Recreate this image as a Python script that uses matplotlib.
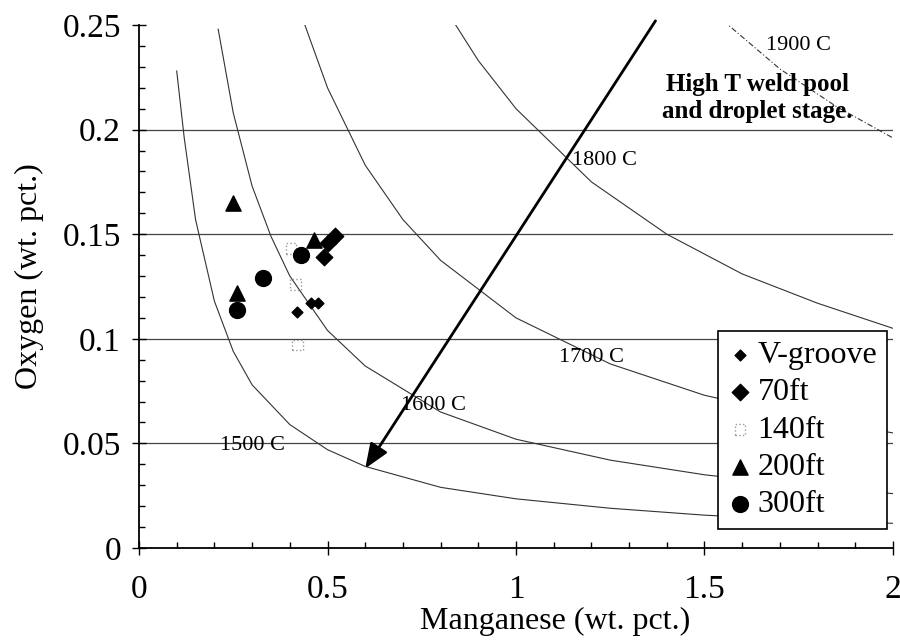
import matplotlib
matplotlib.use("Agg")
import matplotlib.pyplot as plt
from matplotlib.ticker import MultipleLocator

plt.rcParams['font.family'] = ['Liberation Serif', 'DejaVu Serif']

# ---- data ----
vgroove_mn = [0.42, 0.455, 0.475]
vgroove_o = [0.113, 0.117, 0.117]
ft70_mn = [0.49, 0.50, 0.52]
ft70_o = [0.139, 0.146, 0.149]
ft140_mn = [0.403, 0.416, 0.42]
ft140_o = [0.143, 0.126, 0.097]
ft200_mn = [0.25, 0.26, 0.465]
ft200_o = [0.165, 0.122, 0.147]
ft300_mn = [0.26, 0.33, 0.43]
ft300_o = [0.114, 0.129, 0.14]

iso1500_mn = [0.10, 0.12, 0.15, 0.20, 0.25, 0.30, 0.40, 0.50, 0.60, 0.80, 1.00, 1.25, 1.50, 1.75, 2.00]
iso1500_o = [0.228, 0.196, 0.157, 0.118, 0.094, 0.078, 0.059, 0.047, 0.039, 0.029, 0.0235, 0.019, 0.0157, 0.0134, 0.0118]
iso1600_mn = [0.21, 0.25, 0.30, 0.35, 0.40, 0.50, 0.60, 0.80, 1.00, 1.25, 1.50, 1.75, 2.00]
iso1600_o = [0.248, 0.208, 0.173, 0.149, 0.130, 0.104, 0.087, 0.065, 0.052, 0.042, 0.035, 0.030, 0.026]
iso1700_mn = [0.44, 0.50, 0.60, 0.70, 0.80, 1.00, 1.25, 1.50, 1.75, 2.00]
iso1700_o = [0.25, 0.22, 0.183, 0.157, 0.1375, 0.11, 0.088, 0.073, 0.063, 0.055]
iso1800_mn = [0.84, 0.90, 1.00, 1.20, 1.40, 1.60, 1.80, 2.00]
iso1800_o = [0.25, 0.233, 0.21, 0.175, 0.15, 0.131, 0.117, 0.105]
iso1900_mn = [1.55, 1.70, 1.85, 2.00]
iso1900_o = [0.252, 0.229, 0.211, 0.196]

arrow_start = (1.37, 0.252)
arrow_end = (0.60, 0.038)

W, H = 900, 644
fig = plt.figure(figsize=(9, 6.44), dpi=100)
ax = fig.add_axes([139 / W, 1 - 548 / H, (893 - 139) / W, (548 - 25) / H])

ax.set_xlim(0, 2)
ax.set_ylim(0, 0.25)

for yv in [0.05, 0.10, 0.15, 0.20]:
    ax.axhline(yv, color='#444444', lw=0.9, zorder=1)

curve_kw = dict(color='#333333', lw=0.8, zorder=2)
ax.plot(iso1500_mn, iso1500_o, **curve_kw)
ax.plot(iso1600_mn, iso1600_o, **curve_kw)
ax.plot(iso1700_mn, iso1700_o, **curve_kw)
ax.plot(iso1800_mn, iso1800_o, **curve_kw)
ax.plot(iso1900_mn, iso1900_o, color='#333333', lw=0.8, ls=(0, (5, 2, 1, 2)), zorder=2)

lab_kw = dict(fontsize=16, ha='center', va='center', zorder=3)
ax.text(0.30, 0.049, '1500 C', **lab_kw)
ax.text(0.78, 0.068, '1600 C', **lab_kw)
ax.text(1.20, 0.091, '1700 C', **lab_kw)
ax.text(1.235, 0.185, '1800 C', **lab_kw)
ax.text(1.75, 0.240, '1900 C', **lab_kw)
ax.text(1.64, 0.215, 'High T weld pool\nand droplet stage.', fontsize=18,
        fontweight='bold', ha='center', va='center', linespacing=1.2, zorder=3)

ax.annotate('', xy=arrow_end, xytext=arrow_start,
            arrowprops=dict(arrowstyle='-|>,head_length=1.5,head_width=0.6',
                            color='black', lw=2, shrinkA=0, shrinkB=0), zorder=4)

ax.scatter(vgroove_mn, vgroove_o, marker='D', s=30, color='black', zorder=5, label='V-groove')
ax.scatter(ft70_mn, ft70_o, marker='D', s=70, color='black', zorder=5, label='70ft')
ax.scatter(ft140_mn, ft140_o, marker='s', s=60, facecolor='none', edgecolor='#999999',
           linestyle=':', lw=1, zorder=5, label='140ft')
ax.scatter(ft200_mn, ft200_o, marker='^', s=120, color='black', zorder=5, label='200ft')
ax.scatter(ft300_mn, ft300_o, marker='o', s=130, color='black', zorder=5, label='300ft')

leg = ax.legend(loc='lower right', bbox_to_anchor=(887 / W, 1 - 529 / H),
                bbox_transform=fig.transFigure, fontsize=23,
                frameon=True, fancybox=False, edgecolor='black', handletextpad=0.15,
                borderpad=0.3, borderaxespad=0, labelspacing=0.25, handlelength=0.8,
                framealpha=1)
leg.get_frame().set_linewidth(1.2)

for s in ['top', 'right']:
    ax.spines[s].set_visible(False)
ax.spines['left'].set_linewidth(1.3)
ax.spines['bottom'].set_linewidth(1.3)

ax.xaxis.set_minor_locator(MultipleLocator(0.1))
ax.yaxis.set_minor_locator(MultipleLocator(0.01))
ax.set_xticks([0, 0.5, 1, 1.5, 2])
ax.set_xticklabels(['0', '0.5', '1', '1.5', '2'])
ax.set_yticks([0, 0.05, 0.1, 0.15, 0.2, 0.25])
ax.set_yticklabels(['0', '0.05', '0.1', '0.15', '0.2', '0.25'])
ax.tick_params(which='major', direction='inout', length=10, width=1, labelsize=24)
ax.tick_params(which='minor', direction='in', length=4, width=1)
ax.tick_params(axis='x', pad=14)
ax.tick_params(axis='y', pad=8)

ax.set_xlabel('Manganese (wt. pct.)', fontsize=23)
ax.set_ylabel('Oxygen (wt. pct.)', fontsize=23)
ax.xaxis.set_label_coords((555 - 139) / 754, -0.113)
ax.yaxis.set_label_coords((44 - 139) / 754, 0.52)

fig.savefig('out.png', dpi=100)
